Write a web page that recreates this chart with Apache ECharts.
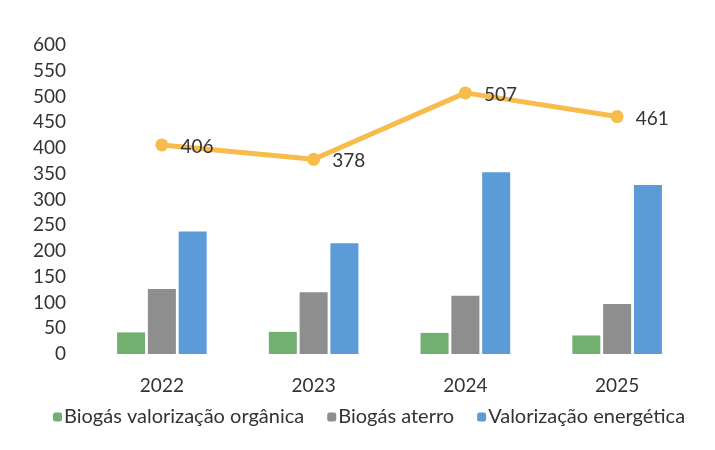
<!DOCTYPE html>
<html>
<head>
<meta charset="utf-8">
<script src="https://cdn.jsdelivr.net/npm/echarts@6/dist/echarts.min.js"></script>
<style>
  html, body { margin: 0; padding: 0; background: #fff; }
  #main { width: 715px; height: 450px; }
</style>
</head>
<body>
<div id="main"></div>
<script>
var years = ['2022', '2023', '2024', '2025'];
var organica = [42, 43, 41, 36];
var aterro = [126, 120, 113, 97];
var energetica = [238, 215, 353, 328];
var total = [406, 378, 507, 461];
var seriesNames = ['Biogás valorização orgânica', 'Biogás aterro', 'Valorização energética'];

var font = 'Lato, "Open Sans", sans-serif';
var myChart = echarts.init(document.getElementById('main'));

var option = {
    animation: false,
    textStyle: { fontFamily: font },
    grid: { left: 86, right: 22, top: 45, bottom: 96 },
    legend: {
        bottom: 18,
        left: 48,
        itemWidth: 9,
        itemHeight: 9,
        itemGap: 23,
        data: seriesNames,
        textStyle: { fontSize: 20, color: '#333', fontFamily: font, padding: [0, 0, 0, -3] }
    },
    xAxis: {
        type: 'category',
        data: years,
        axisLine: { show: false },
        axisTick: { show: false },
        axisLabel: { fontSize: 19, color: '#333', margin: 22 }
    },
    yAxis: {
        type: 'value',
        min: 0,
        max: 600,
        interval: 50,
        splitLine: { show: false },
        axisLabel: { fontSize: 19, color: '#333', margin: 20 }
    },
    series: [
        {
            name: seriesNames[0], type: 'bar', data: organica,
            barWidth: 28, barGap: '10%',
            itemStyle: { color: '#72b072' }
        },
        {
            name: seriesNames[1], type: 'bar', data: aterro,
            barWidth: 28, barGap: '10%',
            itemStyle: { color: '#8e8e8e' }
        },
        {
            name: seriesNames[2], type: 'bar', data: energetica,
            barWidth: 28, barGap: '10%',
            itemStyle: { color: '#5b9bd8' }
        },
        {
            name: 'Total', type: 'line', data: total,
            symbol: 'circle', symbolSize: 13,
            lineStyle: { color: '#f7bc4c', width: 5 },
            itemStyle: { color: '#f7bc4c' },
            label: {
                show: true, position: 'right', distance: 12,
                offset: [0, 2],
                fontSize: 19, color: '#333'
            }
        }
    ]
};

myChart.setOption(option);
</script>
</body>
</html>
